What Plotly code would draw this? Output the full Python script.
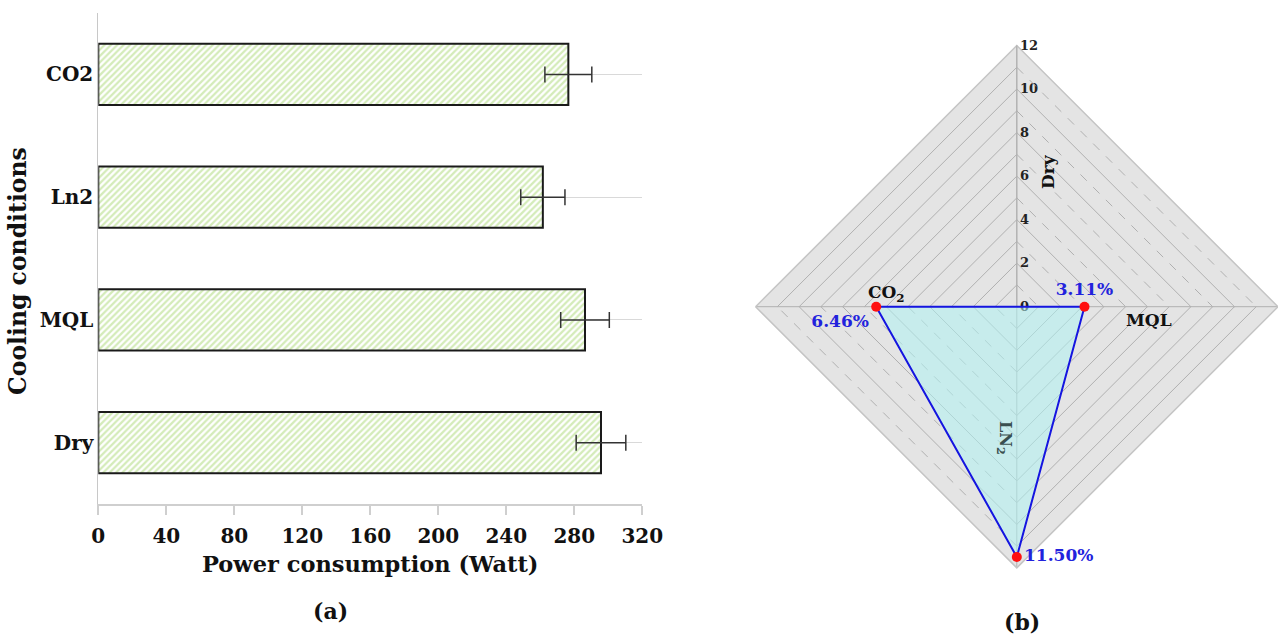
import plotly.graph_objects as go

# ---------------- data ----------------
conditions = ["Dry", "MQL", "Ln2", "CO2"]
power = [295.7, 286.3, 261.5, 276.5]
power_err = [14.6, 14.3, 13.0, 13.8]
x_ticks = [0, 40, 80, 120, 160, 200, 240, 280, 320]

radar_axes = ["Dry", "MQL", "LN2", "CO2"]
radar_vals = [0.0, 3.11, 11.50, 6.46]
radar_text = ["", "3.11%", "11.50%", "6.46%"]
radar_textpos = ["top center", "top center", "middle right", "bottom left"]
radar_ticks = [0, 2, 4, 6, 8, 10, 12]
odd_levels = [1, 3, 5, 7, 9, 11]

W, H = 1278, 639
SERIF = "DejaVu Serif"


def px(x):
    return x / W


def py(y):
    return 1 - y / H


fig = go.Figure()

# ---------------- (a) bar chart ----------------
fig.add_trace(go.Bar(
    x=power, y=conditions, orientation="h", width=0.5,
    marker=dict(
        color="white",
        line=dict(color="#1a1a1a", width=2),
        pattern=dict(shape="/", fgcolor="#a9d873", bgcolor="white", size=4.5, solidity=0.5),
    ),
    error_x=dict(type="data", array=power_err, visible=True, color="#333333", thickness=1.5, width=8),
    xaxis="x", yaxis="y", showlegend=False,
))

fig.update_layout(
    xaxis=dict(
        domain=[px(98.3), px(642.3)], range=[0, 320], tickvals=x_ticks,
        showgrid=False, zeroline=False, showline=True, linecolor="#cfcfcf", linewidth=2,
        ticks="outside", ticklen=9, tickwidth=2, tickcolor="#cfcfcf",
        ticklabelstandoff=4,
        tickfont=dict(family=SERIF, size=20, color="#111111", weight="bold"), anchor="y",
        automargin=False,
    ),
    yaxis=dict(
        domain=[py(504), py(13)], range=[-0.5, 3.5],
        categoryorder="array", categoryarray=conditions,
        showgrid=True, gridcolor="#d9d9d9", gridwidth=1, zeroline=False,
        showline=True, linecolor="#c8c8c8", linewidth=1, ticks="",
        tickfont=dict(family=SERIF, size=20, color="#111111", weight="bold"), anchor="x",
        automargin=False,
    ),
)

# ---------------- (b) radar chart ----------------
# odd-level gridlines (solid in two quadrants, dashed in the other two)
def seg_path(levels, pairs):
    r, t = [], []
    for lv in levels:
        for a, b in pairs:
            r += [lv, lv, None]
            t += [a, b, a]
    return r, t

r_sol, t_sol = seg_path(odd_levels, [("CO2", "Dry"), ("MQL", "LN2")])
r_dash, t_dash = seg_path(odd_levels, [("Dry", "MQL"), ("LN2", "CO2")])
fig.add_trace(go.Scatterpolar(r=r_sol, theta=t_sol, mode="lines",
                              line=dict(color="#b0b0b0", width=1),
                              hoverinfo="skip", showlegend=False, subplot="polar"))
fig.add_trace(go.Scatterpolar(r=r_dash, theta=t_dash, mode="lines",
                              line=dict(color="#b0b0b0", width=1, dash="dash"),
                              hoverinfo="skip", showlegend=False, subplot="polar"))

fig.add_trace(go.Scatterpolar(
    r=radar_vals + radar_vals[:1], theta=radar_axes + radar_axes[:1],
    mode="lines+markers+text",
    text=radar_text + [""], textposition=radar_textpos + ["top center"],
    textfont=dict(family=SERIF, size=17, color="#2222dd", weight="bold"),
    fill="toself", fillcolor="rgba(175,242,242,0.55)",
    line=dict(color="#1515e0", width=2),
    marker=dict(color="#ff1010", size=10),
    showlegend=False, subplot="polar",
))

fig.update_layout(
    polar=dict(
        domain=dict(x=[px(755.6), 1.0], y=[py(567.9), py(45.5)]),
        bgcolor="#e4e4e4",
        gridshape="linear",
        angularaxis=dict(
            direction="clockwise", rotation=90,
            categoryorder="array", categoryarray=radar_axes,
            showticklabels=False, ticks="",
            showgrid=True, gridcolor="#b0b0b0", gridwidth=1,
            showline=True, linecolor="#c4c4c4", linewidth=1.5,
            layer="below traces",
        ),
        radialaxis=dict(
            range=[0, 12], tickvals=radar_ticks, angle=90, tickangle=90,
            side="clockwise",
            showgrid=True, gridcolor="#b0b0b0", gridwidth=1,
            showline=True, linecolor="#b0b0b0", ticks="",
            tickfont=dict(family=SERIF, size=13, color="#222222", weight="bold"),
            layer="below traces",
        ),
    ),
)

# ---------------- text ----------------
ann = []
def text(x, y, s, size, color="#111111", angle=0):
    ann.append(dict(x=px(x), y=py(y), xref="paper", yref="paper", text=s, showarrow=False,
                    textangle=angle, xanchor="center", yanchor="middle",
                    font=dict(family=SERIF, size=size, color=color, weight="bold")))

text(370, 564, "Power consumption (Watt)", 22.5)
text(18, 271, "Cooling conditions", 23.5, angle=-90)
text(330, 611, "(a)", 22)
text(1022, 622, "(b)", 22)
text(1048, 172, "Dry", 17, angle=-90)
text(1149, 320, "MQL", 17)
text(886, 293, "CO<sub>2</sub>", 17)
text(1005, 438, "LN<sub>2</sub>", 16, color="#3a4f4f", angle=90)

fig.update_layout(
    annotations=ann,
    width=W, height=H,
    margin=dict(l=0, r=0, t=0, b=0),
    paper_bgcolor="white", plot_bgcolor="white",
    font=dict(family=SERIF, color="#111111"),
    showlegend=False,
)

fig.write_html("out.html")
